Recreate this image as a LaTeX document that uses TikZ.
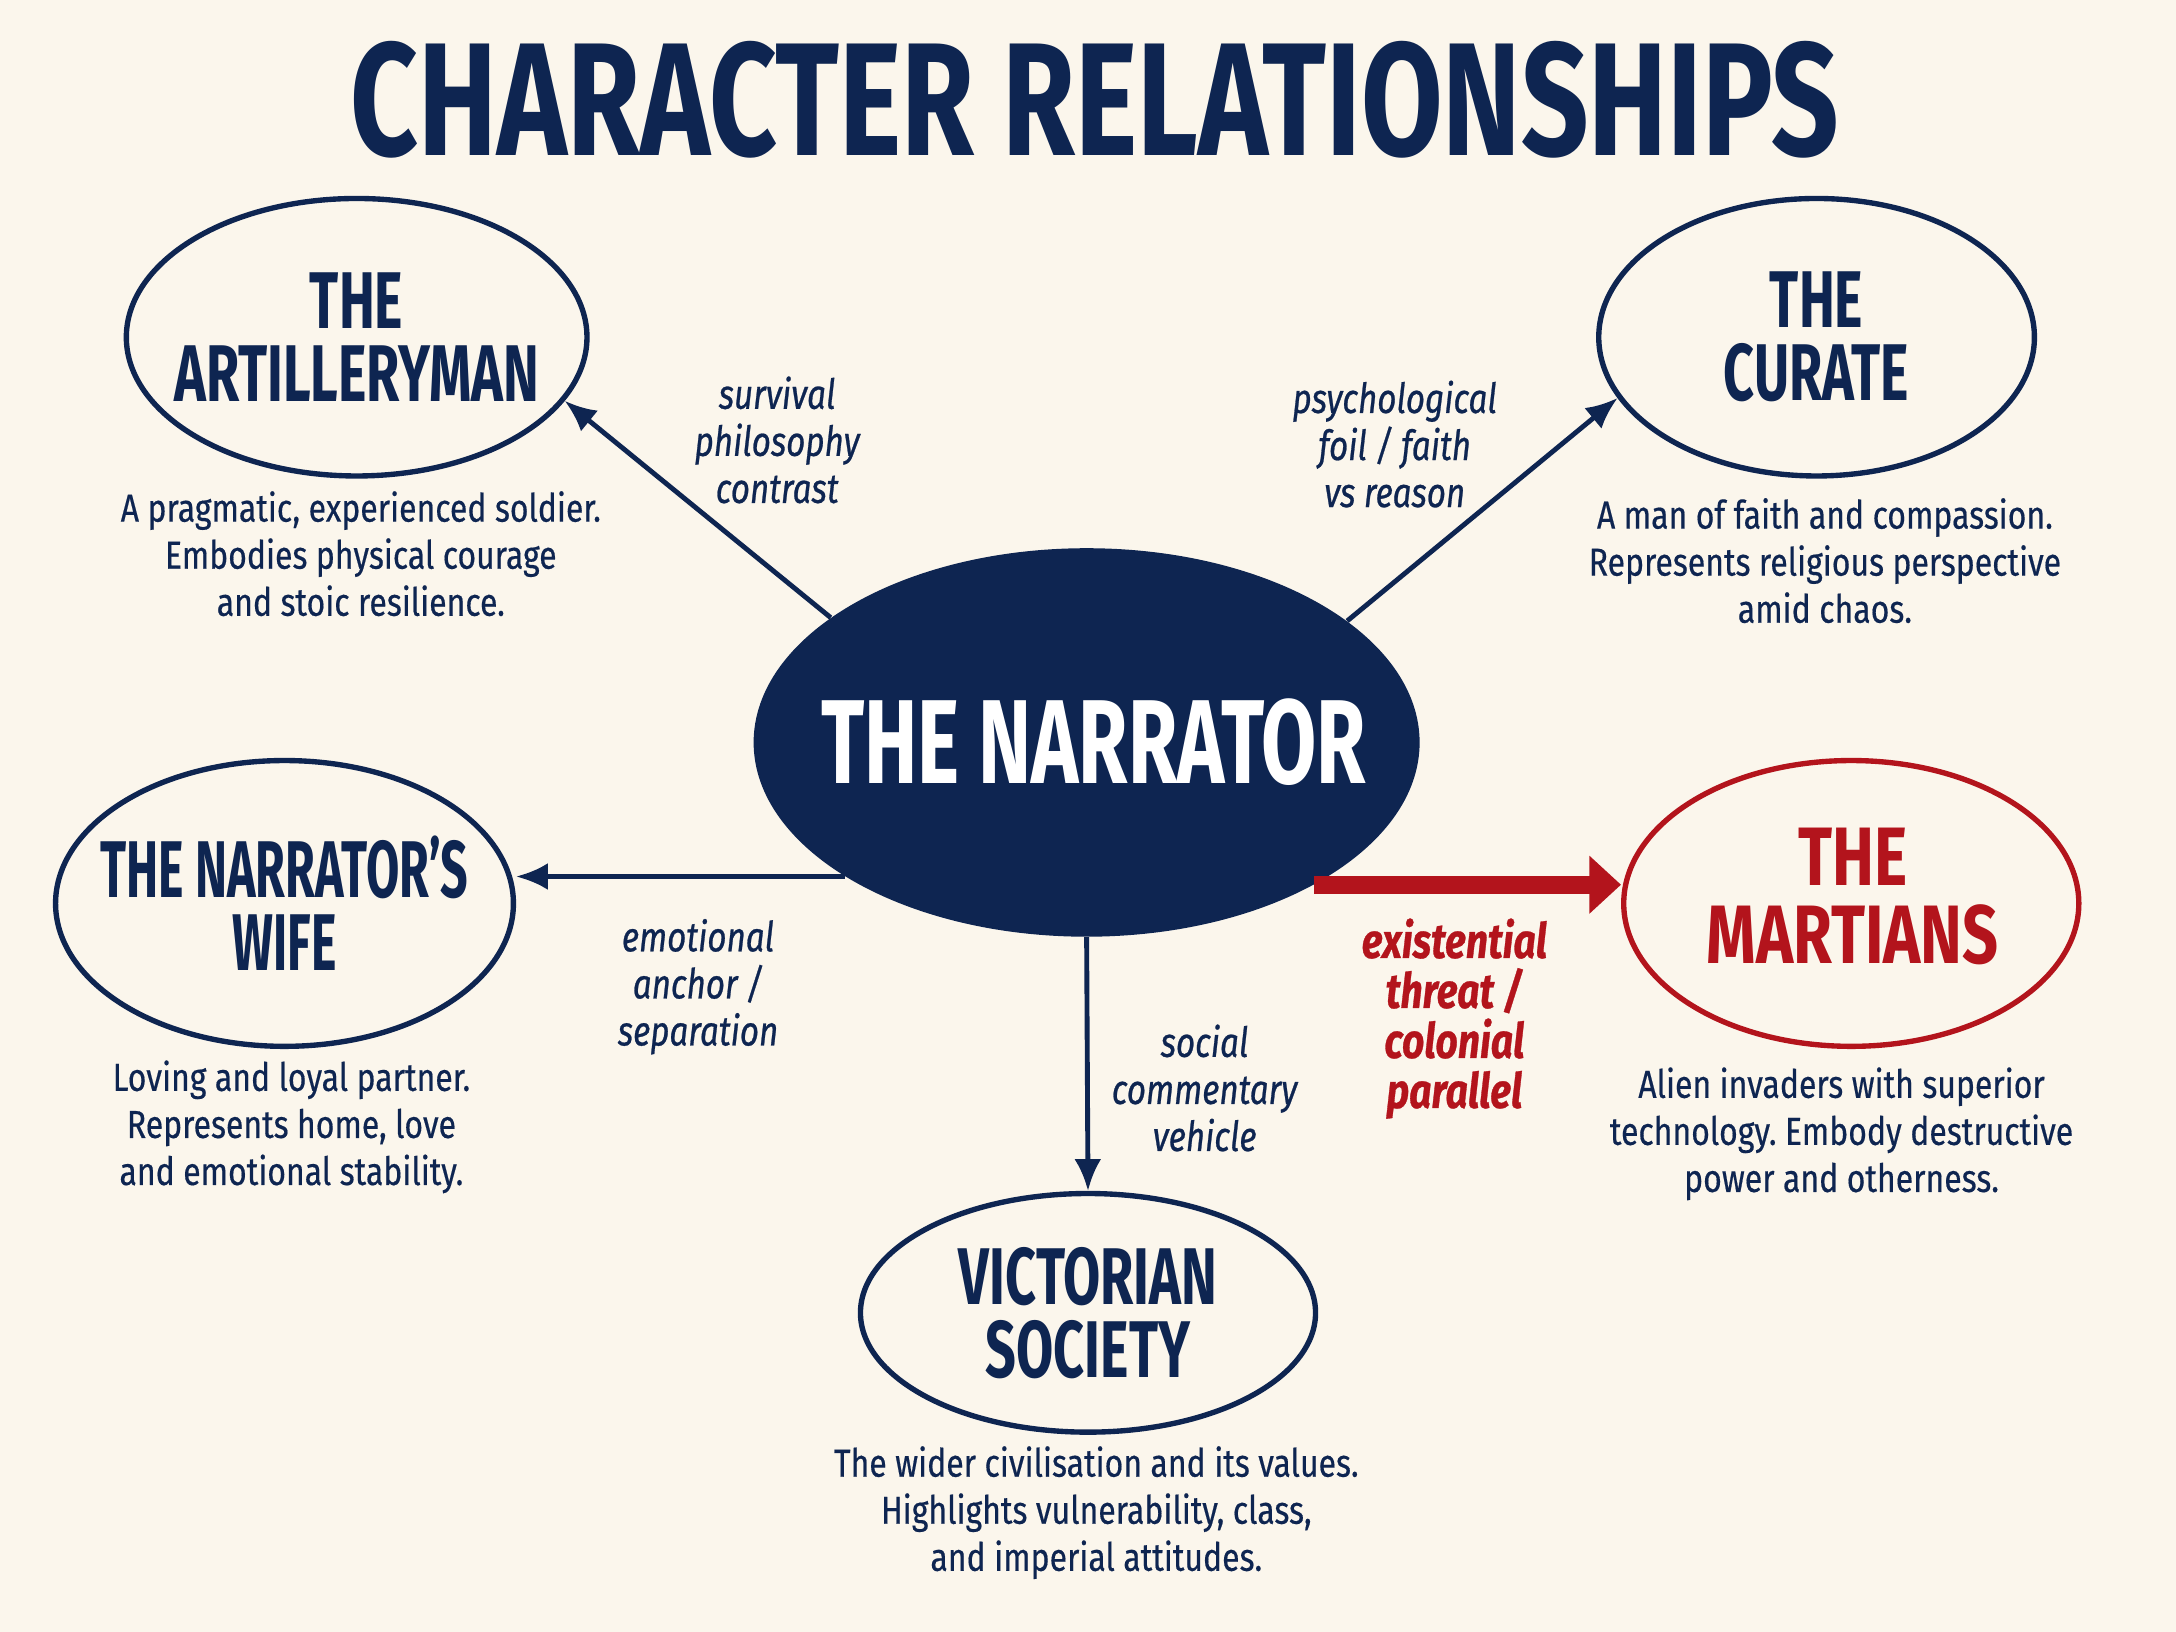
\documentclass[tikz,border=0pt]{standalone}
\usepackage{fontspec}
\setmainfont{Fira Sans}
\frenchspacing
\newfontfamily\condfont[FakeStretch=0.735]{Fira Sans}
\newfontfamily\headfont[FakeStretch=0.67]{Fira Sans}
\newfontfamily\narrowhead[FakeStretch=0.6]{Fira Sans}
\newfontfamily\widehead[FakeStretch=0.76]{Fira Sans}
\newfontfamily\bodyfont[FakeStretch=0.82,FakeBold=0.4]{Fira Sans}
\newfontfamily\labfont[FakeStretch=0.8,FakeBold=0.6]{Fira Sans}
\usetikzlibrary{shapes.geometric,arrows.meta}
\definecolor{navy}{HTML}{0E2551}
\definecolor{mred}{HTML}{B3141C}
\definecolor{bg}{HTML}{FBF6EC}
\tikzset{
  bubble/.style={ellipse, draw=navy, line width=2.2pt, inner sep=0pt},
  head/.style={align=center, text=navy, inner sep=0pt,
    font=\headfont\bfseries\fontsize{33}{30}\selectfont},
  desc/.style={align=center, text=navy, font=\bodyfont\frenchspacing\fontsize{16}{19.3}\selectfont},
  lab/.style={align=center, text=navy, font=\labfont\itshape\fontsize{17}{19.3}\selectfont},
  link/.style={draw=navy, line width=2pt, -{Latex[length=13pt,width=11pt]}},
}
\begin{document}
\begin{tikzpicture}[x=0.02cm,y=-0.02cm]
\fill[bg] (0,0) rectangle (1568,1176);
\useasboundingbox (0,0) rectangle (1568,1176);

\node[text=navy, font=\condfont\bfseries\fontsize{66}{70}\selectfont] (title) at (789,72) {CHARACTER RELATIONSHIPS};

% nodes
\node[ellipse, fill=navy, inner sep=0pt, minimum width=9.6cm, minimum height=5.6cm] (nar) at (783,535) {};
\node[head, text=white, font=\headfont\bfseries\fontsize{49}{50}\selectfont] (nart) at (788,535) {THE NARRATOR};
\node[bubble, minimum width=6.64cm, minimum height=4.0cm] (art) at (257,243) {};
\node[head] (artt) at (art) {THE\\ARTILLERYMAN};
\node[bubble, minimum width=6.28cm, minimum height=4.0cm] (cur) at (1309,243) {};
\node[head] (curt) at (cur) {THE\\CURATE};
\node[bubble, minimum width=6.6cm, minimum height=4.12cm] (wife) at (205,651) {};
\node[head, font=\narrowhead\bfseries\fontsize{33}{30}\selectfont] (wifet) at (wife) {THE NARRATOR’S\\WIFE};
\node[bubble, draw=mred, minimum width=6.56cm, minimum height=4.12cm] (mar) at (1334,651) {};
\node[head, text=mred, font=\widehead\bfseries\fontsize{34}{32}\selectfont] (mart) at (1335,646) {THE\\MARTIANS};
\node[bubble, minimum width=6.56cm, minimum height=3.44cm] (vic) at (784,946) {};
\node[head] (vict) at (vic) {VICTORIAN\\SOCIETY};

% descriptions
\node[desc] (artd) at (260,399) {A pragmatic, experienced soldier.\\Embodies physical courage\\and stoic resilience.};
\node[desc] (curd) at (1315,404) {A man of faith and compassion.\\Represents religious perspective\\amid chaos.};
\node[desc] (wifed) at (210,812) {Loving and loyal partner.\\Represents home, love\\and emotional stability.};
\node[desc] (mard) at (1327,817) {Alien invaders with superior\\technology. Embody destructive\\power and otherness.};
\node[desc] (vicd) at (790,1090) {The wider civilisation and its values.\\Highlights vulnerability, class,\\and imperial attitudes.};

% connectors
\draw[link] (nar.154) -- (art.343);
\draw[link] (nar.25) -- (cur.197);
\draw[link] (nar.209) -- (nar.209 -| wife.east);
\draw[link] (nar.south) -- (vic.north);
\draw[draw=mred, line width=7.5pt, -{Triangle[length=13pt,width=23pt]}] (nar.328) -- (nar.328 -| mar.west);

% labels
\node[lab] (l1) at (560,317) {survival\\philosophy\\contrast};
\node[lab] (l2) at (1005,320) {psychological\\foil / faith\\vs reason};
\node[lab] (l3) at (503,711) {emotional\\anchor /\\separation};
\node[lab] (l4) at (868,784) {social\\commentary\\vehicle};
\node[lab, text=mred, font=\labfont\bfseries\itshape\fontsize{20}{20.5}\selectfont] (l5) at (1048,734) {existential\\threat /\\colonial\\parallel};
\end{tikzpicture}
\end{document}
